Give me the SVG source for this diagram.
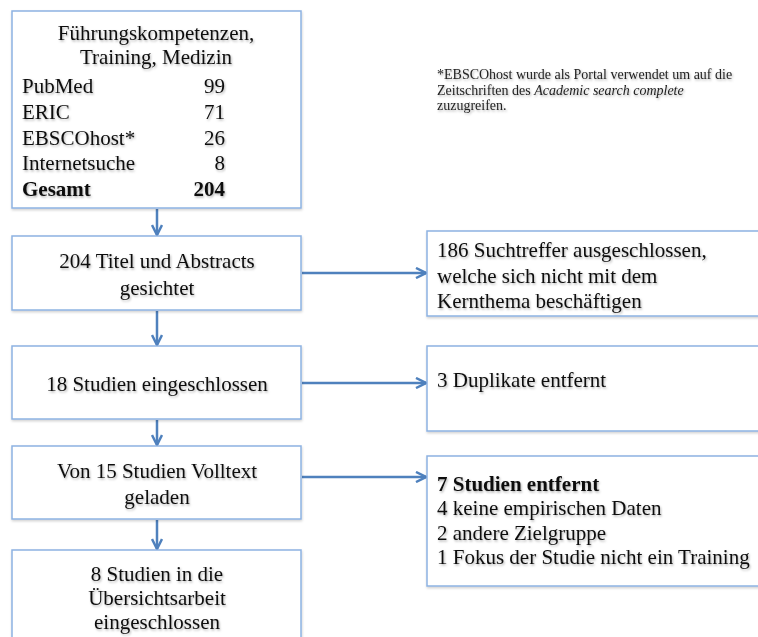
<svg xmlns="http://www.w3.org/2000/svg" width="758" height="637" viewBox="0 0 758 637">
<defs>
<style>
.box{fill:#ffffff;stroke:#8db3e2;stroke-width:1.5;filter:url(#bs)}
.t{font-family:"Liberation Serif","Times New Roman",serif;font-size:21px;fill:#111;filter:url(#ts)}
.c{text-anchor:middle}
.r{text-anchor:end}
.b{font-weight:bold}
.fn{font-family:"Liberation Serif","Times New Roman",serif;font-size:14px;fill:#222;filter:url(#ts)}
.con{stroke:#4f81bd;stroke-width:2.5;fill:none;marker-end:url(#ah)}
</style>
<filter id="ts" x="-5%" y="-30%" width="110%" height="160%">
<feDropShadow dx="1" dy="1.5" stdDeviation="1" flood-color="#000" flood-opacity="0.3"/>
</filter>
<filter id="bs" x="-5%" y="-5%" width="110%" height="115%">
<feDropShadow dx="0.5" dy="1.5" stdDeviation="1" flood-color="#000" flood-opacity="0.18"/>
</filter>
<marker id="ah" viewBox="0 0 10 10" refX="9" refY="5" markerWidth="5" markerHeight="5" orient="auto" markerUnits="strokeWidth">
<path d="M1,1 L9,5 L1,9" fill="none" stroke="#4f81bd" stroke-width="2"/>
</marker>
</defs>
<rect width="758" height="637" fill="#ffffff"/>

<g id="connectors">
<line class="con" x1="157" y1="209" x2="157" y2="235"/>
<line class="con" x1="157" y1="311" x2="157" y2="345"/>
<line class="con" x1="157" y1="420" x2="157" y2="445"/>
<line class="con" x1="157" y1="520" x2="157" y2="549"/>
<line class="con" x1="302" y1="273" x2="426" y2="273"/>
<line class="con" x1="302" y1="383" x2="426" y2="383"/>
<line class="con" x1="302" y1="477" x2="426" y2="477"/>
</g>

<g id="n-search">
<rect class="box" x="12" y="11" width="289" height="197"/>
<text class="t c" x="156" y="40">Führungskompetenzen,</text>
<text class="t c" x="156" y="64">Training, Medizin</text>
<text class="t" x="22" y="93">PubMed</text><text class="t r" x="225" y="93">99</text>
<text class="t" x="22" y="119">ERIC</text><text class="t r" x="225" y="119">71</text>
<text class="t" x="22" y="145">EBSCOhost*</text><text class="t r" x="225" y="145">26</text>
<text class="t" x="22" y="170">Internetsuche</text><text class="t r" x="225" y="170">8</text>
<text class="t b" x="22" y="196">Gesamt</text><text class="t b r" x="225" y="196">204</text>
</g>

<g id="n-footnote">
<text class="fn" x="437" y="79">*EBSCOhost wurde als Portal verwendet um auf die</text>
<text class="fn" x="437" y="95">Zeitschriften des <tspan font-style="italic">Academic search complete</tspan></text>
<text class="fn" x="437" y="110">zuzugreifen.</text>
</g>

<g id="n-screened">
<rect class="box" x="12" y="236" width="289" height="74"/>
<text class="t c" x="157" y="268">204 Titel und Abstracts</text>
<text class="t c" x="157" y="295">gesichtet</text>
</g>

<g id="n-excluded1">
<rect class="box" x="427" y="231" width="345" height="85"/>
<text class="t" x="437" y="257">186 Suchtreffer ausgeschlossen,</text>
<text class="t" x="437" y="283">welche sich nicht mit dem</text>
<text class="t" x="437" y="308">Kernthema beschäftigen</text>
</g>

<g id="n-included18">
<rect class="box" x="12" y="346" width="289" height="73"/>
<text class="t c" x="157" y="391">18 Studien eingeschlossen</text>
</g>

<g id="n-duplicates">
<rect class="box" x="427" y="346" width="345" height="85"/>
<text class="t" x="437" y="387">3 Duplikate entfernt</text>
</g>

<g id="n-fulltext">
<rect class="box" x="12" y="446" width="289" height="73"/>
<text class="t c" x="157" y="478">Von 15 Studien Volltext</text>
<text class="t c" x="157" y="504">geladen</text>
</g>

<g id="n-excluded7">
<rect class="box" x="427" y="456" width="345" height="130"/>
<text class="t b" x="437" y="491">7 Studien entfernt</text>
<text class="t" x="437" y="515">4 keine empirischen Daten</text>
<text class="t" x="437" y="540">2 andere Zielgruppe</text>
<text class="t" x="437" y="564">1 Fokus der Studie nicht ein Training</text>
</g>

<g id="n-final">
<rect class="box" x="12" y="550" width="289" height="100"/>
<text class="t c" x="157" y="581">8 Studien in die</text>
<text class="t c" x="157" y="605">Übersichtsarbeit</text>
<text class="t c" x="157" y="629">eingeschlossen</text>
</g>
</svg>
